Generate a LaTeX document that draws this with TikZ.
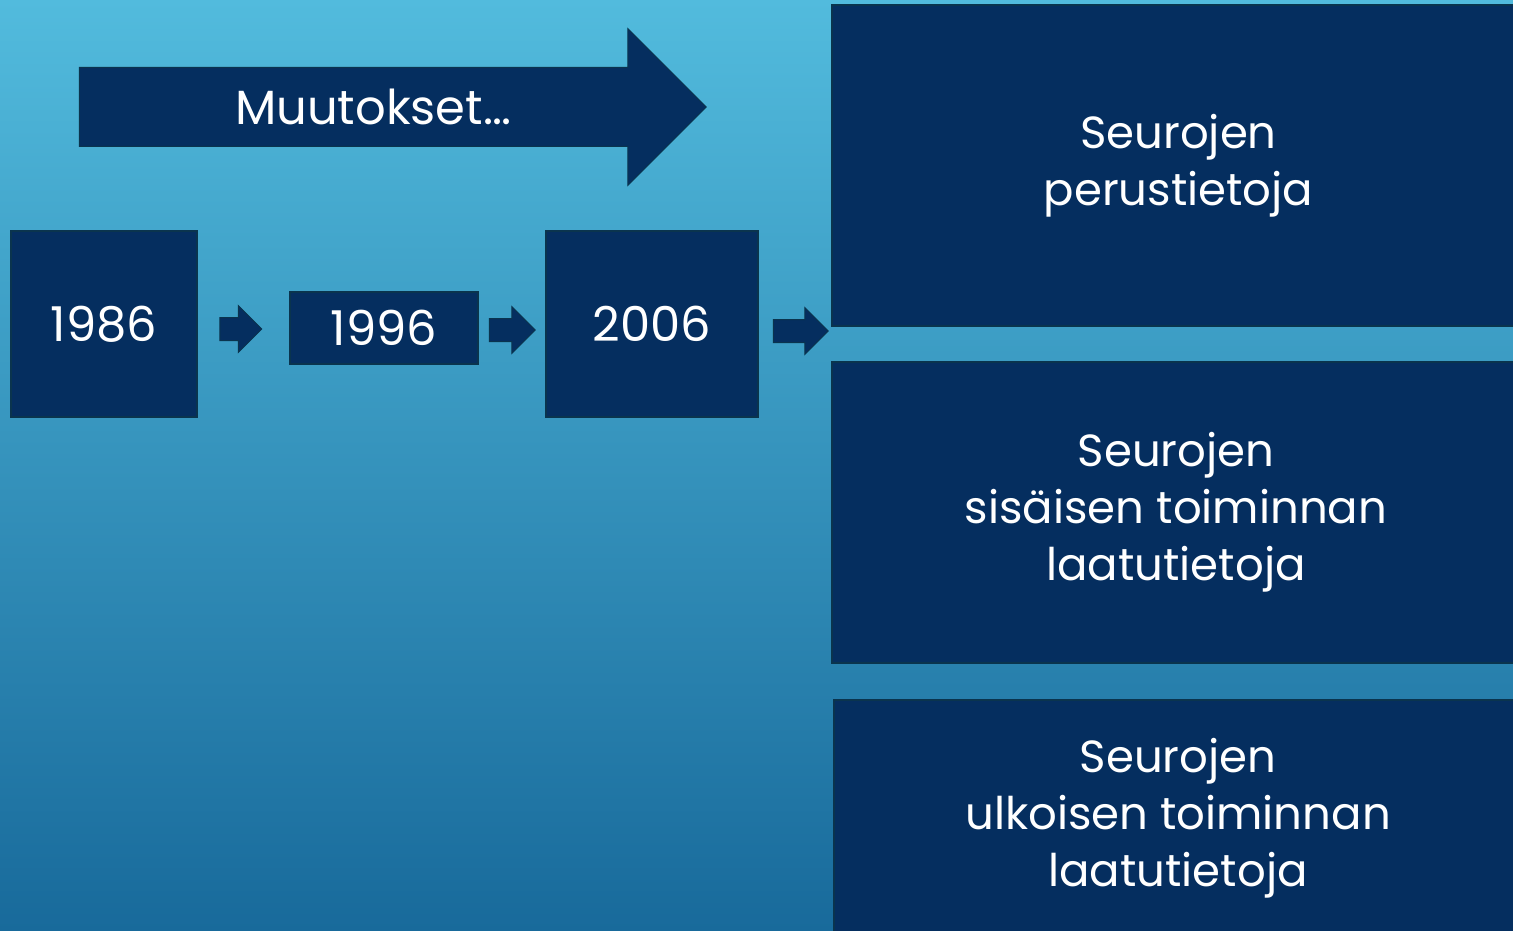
\documentclass[tikz,border=0pt]{standalone}
\usepackage{fontspec}
\setmainfont{Poppins}
\usetikzlibrary{shapes.arrows}
\definecolor{tummasininen}{RGB}{5,46,95}
\definecolor{reuna}{RGB}{10,52,78}
\definecolor{taustaYla}{RGB}{82,187,221}
\definecolor{taustaAla}{RGB}{24,106,155}
\begin{document}
\begin{tikzpicture}[x=1pt, y=-1pt, every node/.style={font=\fontsize{48}{57}\selectfont, text=white}]
    % Tausta
    \useasboundingbox (0,0) rectangle (1513,931);
    \clip (0,0) rectangle (1513,931);
    \shade[top color=taustaYla, bottom color=taustaAla] (0,0) rectangle (1513,931);

    \tikzset{
        laatikko/.style={draw=reuna, line width=1.5pt, fill=tummasininen, inner sep=0pt, align=center},
        tieto/.style={laatikko, font=\fontsize{45}{57}\selectfont},
        nuoli/.style={single arrow, draw=reuna, line width=1pt, fill=tummasininen, inner xsep=0pt,
            inner ysep=11pt, single arrow head extend=12pt, minimum height=42pt}
    }

    % Iso nuoli
    \node[nuoli, inner ysep=39pt, single arrow head extend=39pt, minimum height=627pt,
        label={center:Muutokset…}] (muutokset) at (373,107) {};

    % Vuodet
    \node[laatikko, minimum width=186pt, minimum height=186pt] (v1986) at (104,324) {1986};
    \node[laatikko, minimum width=188pt, minimum height=72pt] (v1996) at (384,328) {1996};
    \node[laatikko, minimum width=212pt, minimum height=186pt] (v2006) at (652,324) {2006};

    % Pienet nuolet
    \node[nuoli] (n1) at (235,329) {};
    \node[nuoli, minimum height=46pt] (n2) at (506.5,330) {};
    \node[nuoli, minimum height=55pt] (n3) at (795,331) {};

    % Tietolaatikot
    \node[tieto, minimum width=693pt, minimum height=321pt] (perus) at (1178.5,165.5) {Seurojen\\perustietoja};
    \node[tieto, minimum width=688pt, minimum height=301pt] (sisainen) at (1176,512.5) {Seurojen\\sisäisen toiminnan\\laatutietoja};
    \node[tieto, minimum width=688pt, minimum height=236pt] (ulkoinen) at (1178,818) {Seurojen\\ulkoisen toiminnan\\laatutietoja};
\end{tikzpicture}
\end{document}
